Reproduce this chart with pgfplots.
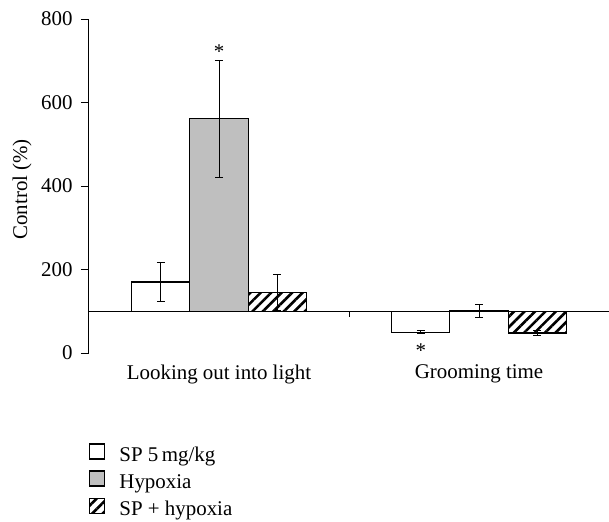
\documentclass[border=0pt]{standalone}
\usepackage{pgfplots}
\pgfplotsset{compat=1.18}
\usepackage{fontspec}
\setmainfont{Liberation Serif}
\usetikzlibrary{patterns.meta}

\definecolor{barGray}{RGB}{191,191,191}
\tikzset{hatch/.style={pattern={Lines[angle=45,distance=7.4bp,line width=2.6bp]}}}

\begin{document}
\begin{tikzpicture}[font=\fontsize{21}{25}\selectfont]
\begin{axis}[
  at={(0,0)}, anchor=south west,
  scale only axis, width=520bp, height=334bp,
  xmin=-0.5, xmax=1.5, ymin=0, ymax=800,
  % bars grow from the 100 % control level
  y coord trafo/.code={\pgfmathparse{#1-100}},
  y coord inv trafo/.code={\pgfmathparse{#1+100}},
  axis x line=bottom, axis y line=left,
  x axis line style={draw=none},
  y axis line style={-, line width=1bp},
  xtick={0,1},
  xticklabels={Looking out into light, Grooming time},
  major x tick style={draw=none},
  ytick={0,200,400,600,800},
  yticklabels={0,200,400,600,800},
  yticklabel style={xshift=-5bp},
  tick align=outside,
  major tick length=8bp,
  major y tick style={line width=1bp, black},
  ylabel={Control (\%)},
  every axis y label/.style={at={(axis description cs:0,0.49)}, rotate=90, anchor=center, yshift=67bp},
  clip=false,
  legend style={
    at={(axis description cs:0,-0.27)}, anchor=north west,
    draw=none, fill=none, inner sep=0pt,
    row sep=0pt, column sep=14bp,
    nodes={inner sep=0pt, text height=16bp, text depth=9bp}
  },
  legend cell align=left,
  legend image code/.code={\draw[#1, line width=1.2bp] (0bp,-1bp) rectangle (15bp,14bp);},
  bar width=0.224,
  every axis plot/.append style={draw=black, line width=1.2bp},
  error bars/error bar style={line width=1bp, black},
  error bars/error mark options={line width=1bp, mark size=4bp, rotate=90},
]
% groups centred at 0 and 1; bars offset by one bar width
\addplot[ybar, bar shift=0, fill=white,
  error bars/.cd, y dir=both, y explicit]
  coordinates {(-0.224,170) +- (0,46) (0.776,50) +- (0,3)};
\addlegendentry{SP 5\,mg/kg}
\addplot[ybar, bar shift=0, fill=barGray,
  error bars/.cd, y dir=both, y explicit]
  coordinates {(0,561) +- (0,140) (1,101) +- (0,16)};
\addlegendentry{Hypoxia}
\addplot[ybar, bar shift=0, hatch,
  error bars/.cd, y dir=both, y explicit]
  coordinates {(0.224,145) +- (0,42) (1.224,48) +- (0,7)};
\addlegendentry{SP + hypoxia}
\draw[line width=1.2bp] (axis cs:-0.5,100) -- (axis cs:1.5,100);
\draw[line width=1bp] (axis cs:0.5,100) -- (axis cs:0.5,86);
\node[anchor=base] at (axis cs:0,706) {*};
\node[anchor=base] at (axis cs:0.776,-10) {*};
\end{axis}
\pgfresetboundingbox
\path[use as bounding box] (-89bp,-169bp) rectangle (520bp,353bp);
\end{tikzpicture}
\end{document}
